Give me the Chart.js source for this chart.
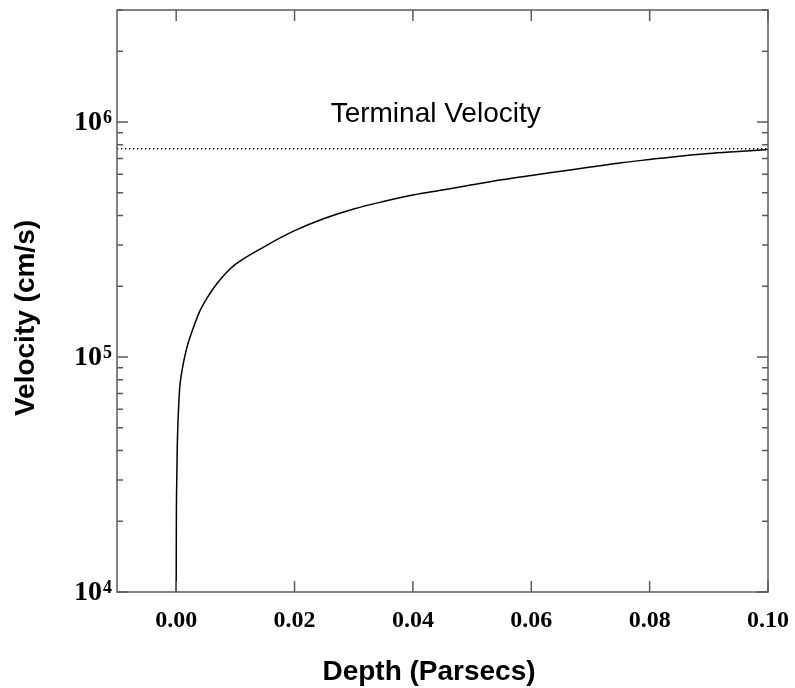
<!DOCTYPE html>
<html>
<head>
<meta charset="utf-8">
<script src="https://cdn.jsdelivr.net/npm/chart.js@4"></script>
<style>
    body { margin: 0; background: #fff; }
    #wrap { width: 795px; height: 688px; }
</style>
</head>
<body>
<div id="wrap"><canvas id="velocityChart" width="795" height="688"></canvas></div>
<script>
// Depth (pc) and velocity (cm/s)
const depth = [0, 0.00003, 0.0001, 0.00017, 0.00027, 0.00056, 0.0007, 0.0010, 0.0013, 0.0019,
    0.0027, 0.0039, 0.0052, 0.0068, 0.0085, 0.0100, 0.015, 0.020, 0.025, 0.030,
    0.035, 0.040, 0.045, 0.050, 0.055, 0.060, 0.065, 0.070, 0.075, 0.080,
    0.085, 0.090, 0.095, 0.100];
const velocity = [1.0e4, 2.0e4, 3.0e4, 4.0e4, 5.0e4, 7.2e4, 7.85e4, 8.8e4, 9.66e4, 1.12e5,
    1.29e5, 1.55e5, 1.78e5, 2.04e5, 2.29e5, 2.48e5, 2.96e5, 3.45e5, 3.89e5, 4.27e5,
    4.59e5, 4.89e5, 5.14e5, 5.41e5, 5.68e5, 5.93e5, 6.18e5, 6.44e5, 6.70e5, 6.93e5,
    7.16e5, 7.35e5, 7.50e5, 7.65e5];

const terminalVelocity = 7.7e5;
const xRange = [-0.01, 0.10];
const yRange = [1e4, 3e6];

const xTicks = [0, 0.02, 0.04, 0.06, 0.08, 0.10];
const xTickLabels = ['0.00', '0.02', '0.04', '0.06', '0.08', '0.10'];
const yDecades = [4, 5, 6];

const frameColor = '#5a5a5a';
const serif = "'Liberation Serif', 'Times New Roman', serif";
const sans = "'Liberation Sans', Arial, sans-serif";

// frame, inward ticks on all four sides, tick labels, titles
const framePlugin = {
    id: 'frame',
    afterDatasetsDraw(chart) {
        const { ctx, chartArea: a, scales: { x, y } } = chart;
        ctx.save();
        ctx.strokeStyle = frameColor;
        ctx.lineWidth = 1.5;
        ctx.strokeRect(a.left, a.top, a.right - a.left, a.bottom - a.top);

        ctx.beginPath();
        xTicks.forEach(v => {
            const px = x.getPixelForValue(v);
            ctx.moveTo(px, a.bottom); ctx.lineTo(px, a.bottom - 11);
            ctx.moveTo(px, a.top); ctx.lineTo(px, a.top + 11);
        });
        const lo = Math.floor(Math.log10(y.min));
        const hi = Math.ceil(Math.log10(y.max));
        for (let e = lo; e <= hi; e++) {
            for (let m = 1; m <= 9; m++) {
                const v = m * Math.pow(10, e);
                if (v < y.min || v > y.max) continue;
                const py = y.getPixelForValue(v);
                const len = m === 1 ? 11 : 6;
                ctx.moveTo(a.left, py); ctx.lineTo(a.left + len, py);
                ctx.moveTo(a.right, py); ctx.lineTo(a.right - len, py);
            }
        }
        ctx.stroke();

        ctx.fillStyle = '#000';

        // x tick labels
        ctx.font = 'bold 24px ' + serif;
        ctx.textAlign = 'center';
        ctx.textBaseline = 'middle';
        xTicks.forEach((v, i) => {
            ctx.fillText(xTickLabels[i], x.getPixelForValue(v), a.bottom + 29);
        });

        // y tick labels 10^n
        yDecades.forEach(e => {
            const py = y.getPixelForValue(Math.pow(10, e));
            ctx.font = 'bold 28px ' + serif;
            ctx.textAlign = 'right';
            ctx.textBaseline = 'middle';
            ctx.fillText('10', a.left - 15, py + 1);
            ctx.font = 'bold 18px ' + serif;
            ctx.textAlign = 'left';
            ctx.textBaseline = 'alphabetic';
            ctx.fillText(String(e), a.left - 14, py + 1);
        });

        // annotation
        ctx.font = '28px ' + sans;
        ctx.textAlign = 'left';
        ctx.textBaseline = 'alphabetic';
        ctx.fillText('Terminal Velocity', x.getPixelForValue(0.0261), y.getPixelForValue(1e6));

        // axis titles
        ctx.font = 'bold 28px ' + sans;
        ctx.textAlign = 'center';
        ctx.textBaseline = 'middle';
        ctx.fillText('Depth (Parsecs)', 429, 672);
        ctx.translate(26, 318);
        ctx.rotate(-Math.PI / 2);
        ctx.fillText('Velocity (cm/s)', 0, 0);
        ctx.restore();
    }
};

new Chart(document.getElementById('velocityChart'), {
    type: 'line',
    data: {
        datasets: [
            {
                data: depth.map((d, i) => ({ x: d, y: velocity[i] })),
                borderColor: '#000',
                borderWidth: 1.5,
                pointRadius: 0,
                cubicInterpolationMode: 'monotone',
                fill: false
            },
            {
                data: xRange.map(d => ({ x: d, y: terminalVelocity })),
                borderColor: '#000',
                borderWidth: 1.3,
                borderDash: [1.3, 2.7],
                pointRadius: 0,
                fill: false
            }
        ]
    },
    options: {
        responsive: false,
        animation: false,
        events: [],
        layout: { padding: { left: 117, right: 27, top: 10, bottom: 96 } },
        plugins: { legend: { display: false }, tooltip: { enabled: false } },
        scales: {
            x: {
                type: 'linear',
                min: xRange[0],
                max: xRange[1],
                display: false
            },
            y: {
                type: 'logarithmic',
                min: yRange[0],
                max: yRange[1],
                display: false
            }
        }
    },
    plugins: [framePlugin]
});
</script>
</body>
</html>
